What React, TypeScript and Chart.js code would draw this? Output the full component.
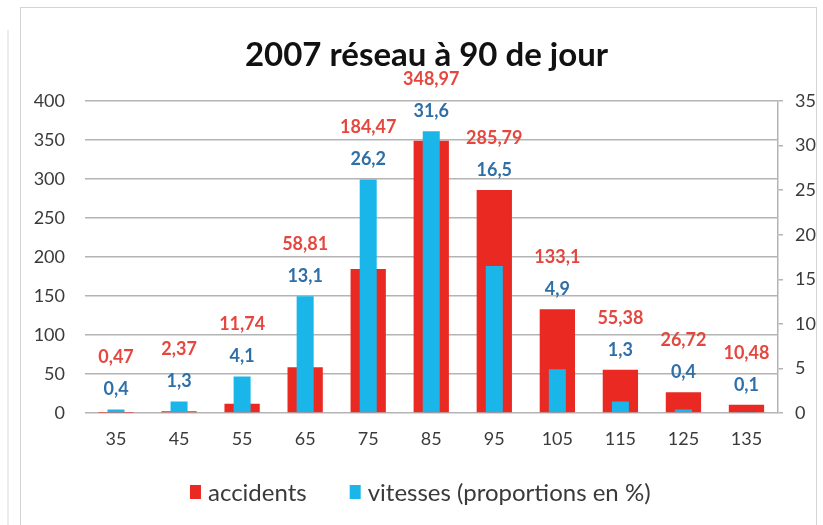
import React, { useEffect, useRef } from 'react';
import { Chart, registerables } from 'chart.js';

Chart.register(...registerables);

const categories = ['35', '45', '55', '65', '75', '85', '95', '105', '115', '125', '135'];
const accidents = [0.47, 2.37, 11.74, 58.81, 184.47, 348.97, 285.79, 133.1, 55.38, 26.72, 10.48];
const vitesses = [0.4, 1.3, 4.1, 13.1, 26.2, 31.6, 16.5, 4.9, 1.3, 0.4, 0.1];
const seriesNames = ['accidents', 'vitesses (proportions en %)'];
const titleText = '2007 réseau à 90 de jour';
const leftMax = 400;
const leftStep = 50;
const rightMax = 35;
const rightStep = 5;

const RED = '#ea2a22';
const CYAN = '#1ab6ea';
const RED_LABEL = '#e5473e';
const BLUE_LABEL = '#2f6fa8';
const TICK = '#3a3a3a';
const GRID = '#b4b4b4';
const FONT = 'Lato';

const fmt = (v: number) => String(v).replace('.', ',');

const valueLabels = {
  id: 'valueLabels',
  afterDatasetsDraw(chart: any) {
    const ctx = chart.ctx;
    const m0 = chart.getDatasetMeta(0);
    const m1 = chart.getDatasetMeta(1);
    const d0 = chart.data.datasets[0].data as number[];
    const d1 = chart.data.datasets[1].data as number[];
    ctx.save();
    ctx.font = `bold 18px ${FONT}`;
    ctx.textAlign = 'center';
    ctx.textBaseline = 'middle';
    m0.data.forEach((bar: any, i: number) => {
      const b1 = m1.data[i];
      const top = Math.min(bar.y, b1.y);
      const blueY = top - 20;
      const redY = blueY - 32;
      ctx.fillStyle = BLUE_LABEL;
      ctx.fillText(fmt(d1[i]), b1.x, blueY);
      ctx.fillStyle = RED_LABEL;
      ctx.fillText(fmt(d0[i]), bar.x, redY);
    });
    ctx.restore();
  },
};

const rowLegend = {
  id: 'rowLegend',
  afterDraw(chart: any) {
    const ctx = chart.ctx;
    const sets = chart.data.datasets;
    const boxW = 11;
    const boxH = 14;
    const gap = 7;
    const itemGap = 43;
    ctx.save();
    ctx.font = `24px ${FONT}`;
    ctx.textBaseline = 'middle';
    ctx.textAlign = 'left';
    const widths = sets.map((s: any) => boxW + gap + ctx.measureText(s.label).width);
    const total = widths.reduce((a: number, b: number) => a + b, 0) + itemGap * (sets.length - 1);
    const cx = (chart.chartArea.left + chart.chartArea.right) / 2 - 11;
    const y = chart.chartArea.bottom + 79;
    let x = cx - total / 2;
    sets.forEach((s: any, i: number) => {
      ctx.fillStyle = s.backgroundColor;
      ctx.fillRect(x, y - boxH / 2, boxW, boxH);
      ctx.fillStyle = TICK;
      ctx.fillText(s.label, x + boxW + gap, y + 1);
      x += widths[i] + itemGap;
    });
    ctx.restore();
  },
};

export default function App() {
  const ref = useRef<HTMLCanvasElement>(null);
  useEffect(() => {
    Chart.defaults.font.family = FONT;
    const chart = new Chart(ref.current as HTMLCanvasElement, {
      type: 'bar',
      data: {
        labels: categories,
        datasets: [
          {
            label: seriesNames[0],
            data: accidents,
            backgroundColor: RED,
            yAxisID: 'y',
            grouped: false,
            barPercentage: 0.56,
            categoryPercentage: 1,
            order: 2,
          } as any,
          {
            label: seriesNames[1],
            data: vitesses,
            backgroundColor: CYAN,
            yAxisID: 'y1',
            grouped: false,
            barPercentage: 0.27,
            categoryPercentage: 1,
            order: 1,
          } as any,
        ],
      },
      options: {
        animation: false,
        responsive: true,
        maintainAspectRatio: false,
        layout: { padding: { left: 30, right: 0, top: 10, bottom: 52 } },
        plugins: {
          legend: { display: false },
          tooltip: { enabled: false },
          title: {
            display: true,
            text: titleText,
            color: '#111',
            font: { family: FONT, size: 33, weight: 'bold', lineHeight: 1.2 },
            padding: { top: 25.2, bottom: 26.2 },
          },
        },
        scales: {
          x: {
            grid: { display: false, drawTicks: false },
            border: { display: false },
            ticks: { color: TICK, font: { size: 18 }, padding: 15 },
            afterFit: (s: any) => {
              s.height = 60;
            },
          },
          y: {
            position: 'left',
            min: 0,
            max: leftMax,
            ticks: { stepSize: leftStep, color: TICK, font: { size: 18 }, padding: 19.5 },
            grid: { color: GRID, lineWidth: 1.5, drawTicks: false },
            border: { display: false },
            afterFit: (s: any) => {
              s.width = 54.5;
            },
          },
          y1: {
            position: 'right',
            min: 0,
            max: rightMax,
            ticks: { stepSize: rightStep, color: TICK, font: { size: 18 }, padding: 12 },
            grid: { drawOnChartArea: false, drawTicks: true, tickLength: 5, color: GRID, lineWidth: 1.5 },
            border: { display: true, color: GRID, width: 1.5 },
            afterFit: (s: any) => {
              s.width = 45;
            },
          },
        },
      },
      plugins: [valueLabels, rowLegend],
    });
    return () => chart.destroy();
  }, []);

  return (
    <div style={{ position: 'fixed', left: 0, top: 0, width: 823, height: 525, overflow: 'hidden', background: '#fff' }}>
      <div style={{ position: 'absolute', left: 7, top: 30, width: 2, height: 495, background: '#ededed' }} />
      <div
        style={{
          position: 'absolute',
          left: 20,
          top: 7,
          width: 797,
          height: 540,
          border: '1px solid #d4d4d4',
          boxSizing: 'border-box',
        }}
      />
      <div style={{ position: 'absolute', left: 0, top: 0, width: 823, height: 525 }}>
        <canvas ref={ref} />
      </div>
    </div>
  );
}
